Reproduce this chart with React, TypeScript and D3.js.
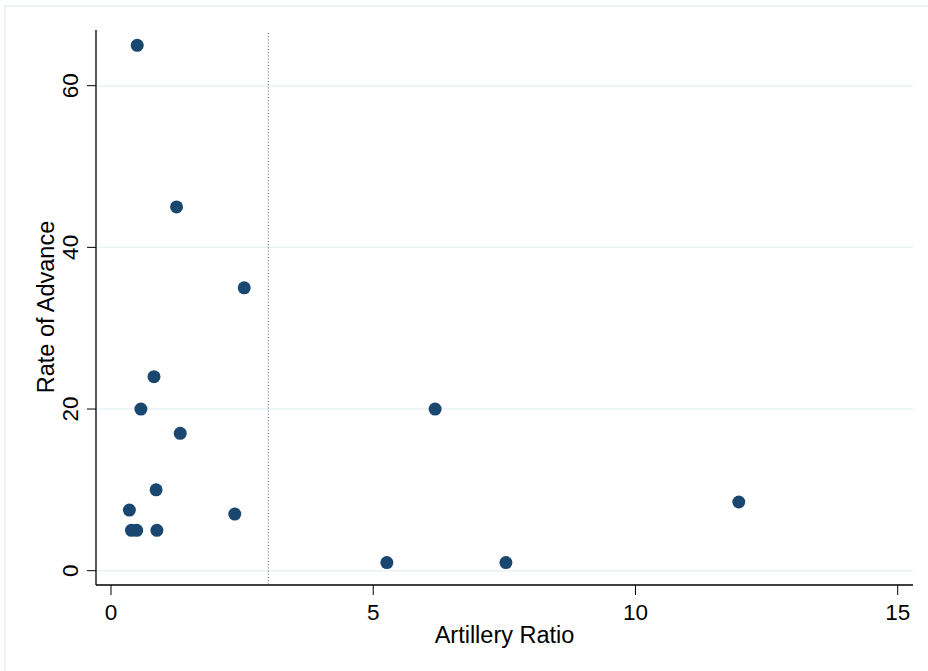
import React from "react";
import * as d3 from "d3";

const artilleryRatio = [0.5, 1.25, 2.54, 0.82, 0.57, 1.32, 6.18, 0.86, 11.97, 0.35, 2.36, 0.39, 0.49, 0.875, 5.26, 7.53];
const rateOfAdvance = [65, 45, 35, 24, 20, 17, 20, 10, 8.5, 7.5, 7, 5, 5, 5, 1, 1];
const xTicks = [0, 5, 10, 15];
const yTicks = [0, 20, 40, 60];
const thresholdX = [3];

const W = 928;
const H = 671;

export default function App() {
  const x = d3.scaleLinear().domain([0, 15]).range([111, 897.7]);
  const y = d3.scaleLinear().domain([0, 60]).range([570.7, 85.7]);
  const left = 96;
  const right = 913;
  const top = 30;
  const bottom = 585;
  const font = "'Liberation Sans', Arial, sans-serif";
  const navy = "#1a476f";
  const grid = "#eaf2f3";

  const pts = artilleryRatio.map((v, i) => ({ x: v, y: rateOfAdvance[i] }));

  return (
    <svg
      width={W}
      height={H}
      style={{ position: "fixed", left: 0, top: 0, background: "#fff" }}
      fontFamily={font}
    >
      <rect x={0} y={0} width={W} height={H} fill="#fff" />
      <rect x={5} y={6} width={W + 10} height={H + 10} fill="none" stroke="#e8eef0" strokeWidth={1.5} />
      {yTicks.map((t) => (
        <line key={"g" + t} x1={left + 1} x2={right} y1={y(t)} y2={y(t)} stroke={grid} strokeWidth={1.5} />
      ))}
      {thresholdX.map((t) => (
        <line
          key={"th" + t}
          x1={x(t)}
          x2={x(t)}
          y1={33}
          y2={bottom - 1}
          stroke="#555"
          strokeWidth={1}
          strokeDasharray="1 2.2"
        />
      ))}
      {pts.map((p, i) => (
        <circle key={i} cx={x(p.x)} cy={y(p.y)} r={6.5} fill={navy} />
      ))}
      <line x1={left} x2={left} y1={top} y2={bottom} stroke="#000" strokeWidth={1.3} />
      <line x1={left} x2={right} y1={bottom} y2={bottom} stroke="#000" strokeWidth={1.3} />
      {yTicks.map((t) => (
        <g key={"yt" + t}>
          <line x1={left - 9} x2={left} y1={y(t)} y2={y(t)} stroke="#000" strokeWidth={1} />
          <text
            transform={`translate(${78.3},${y(t)}) rotate(-90)`}
            textAnchor="middle"
            fontSize={22.5}
            fill="#000"
          >
            {t}
          </text>
        </g>
      ))}
      {xTicks.map((t) => (
        <g key={"xt" + t}>
          <line x1={x(t)} x2={x(t)} y1={bottom} y2={bottom + 10} stroke="#000" strokeWidth={1} />
          <text x={x(t)} y={620} textAnchor="middle" fontSize={22.5} fill="#000">
            {t}
          </text>
        </g>
      ))}
      <text x={504.5} y={643.3} textAnchor="middle" fontSize={23.5} fill="#000">
        Artillery Ratio
      </text>
      <text
        transform={`translate(${53.5},${307}) rotate(-90)`}
        textAnchor="middle"
        fontSize={23.5}
        fill="#000"
      >
        Rate of Advance
      </text>
    </svg>
  );
}
